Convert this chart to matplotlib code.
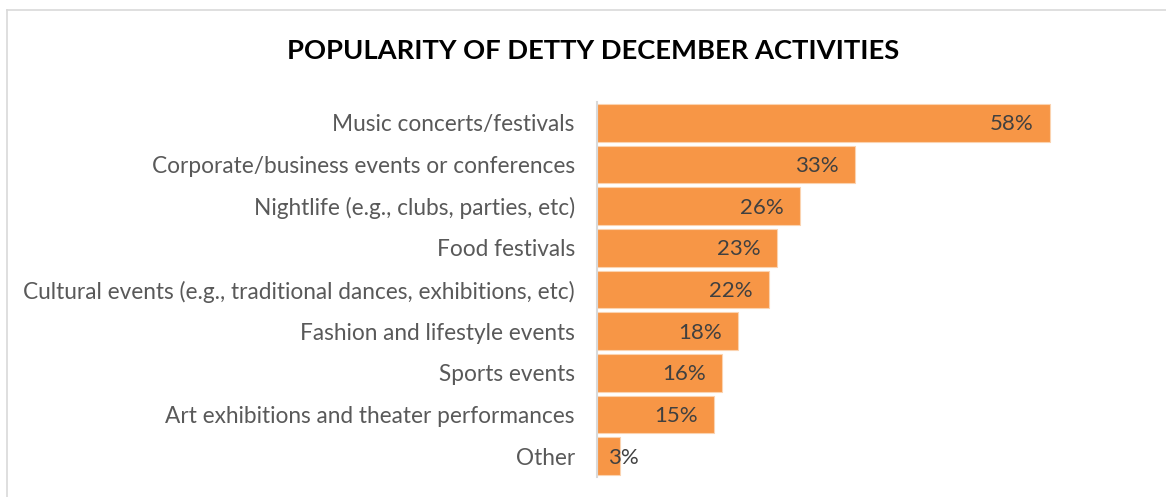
import matplotlib
matplotlib.use("Agg")
import matplotlib.pyplot as plt
from matplotlib.lines import Line2D

plt.rcParams['font.family'] = ['Lato', 'DejaVu Sans']

categories = [
    "Music concerts/festivals",
    "Corporate/business events or conferences",
    "Nightlife (e.g., clubs, parties, etc)",
    "Food festivals",
    "Cultural events (e.g., traditional dances, exhibitions, etc)",
    "Fashion and lifestyle events",
    "Sports events",
    "Art exhibitions and theater performances",
    "Other",
]
values = [58, 33, 26, 23, 22, 18, 16, 15, 3]
title = "POPULARITY OF DETTY DECEMBER ACTIVITIES"

W, H = 1166, 497
fig = plt.figure(figsize=(W / 100, H / 100), dpi=100)

# chart frame (top and left edges visible)
fig.add_artist(Line2D([7 / W, 1.0], [1 - 10 / H, 1 - 10 / H], color="#d9d9d9", lw=1.2))
fig.add_artist(Line2D([7 / W, 7 / W], [0, 1 - 10 / H], color="#d9d9d9", lw=1.2))

x0, x1 = 597, 597 + 7.81 * 70
y_top, y_bot = 102, 477
ax = fig.add_axes([x0 / W, 1 - y_bot / H, (x1 - x0) / W, (y_bot - y_top) / H])

bar_color = "#F79646"
pos = list(range(len(categories)))
ax.barh(pos, values, height=0.91, color=bar_color, edgecolor="#fbd3b0", linewidth=0.8)
ax.set_xlim(0, 70)
ax.set_ylim(len(categories) - 0.5, -0.5)

ax.set_yticks(pos)
ax.set_yticklabels(categories, fontsize=16.3, color="#595959")
ax.tick_params(axis="y", length=0, pad=16)
ax.set_xticks([])
for s in ["top", "right", "bottom"]:
    ax.spines[s].set_visible(False)
ax.spines["left"].set_color("#d9d9d9")
ax.spines["left"].set_linewidth(1.5)

for p, v in zip(pos, values):
    label = f"{v}%"
    if v >= 8:
        ax.annotate(label, (v, p), xytext=(-11.5, -1), textcoords="offset points",
                    ha="right", va="center", fontsize=16, color="#404040")
    else:
        ax.annotate(label, (v, p), xytext=(2, -1), textcoords="offset points",
                    ha="center", va="center", fontsize=16, color="#404040")

fig.text(593 / W, 1 - 51 / H, title, ha="center", va="center",
         fontsize=19.7, fontweight="bold", color="black")

fig.savefig("out.png", dpi=100, facecolor="white")
